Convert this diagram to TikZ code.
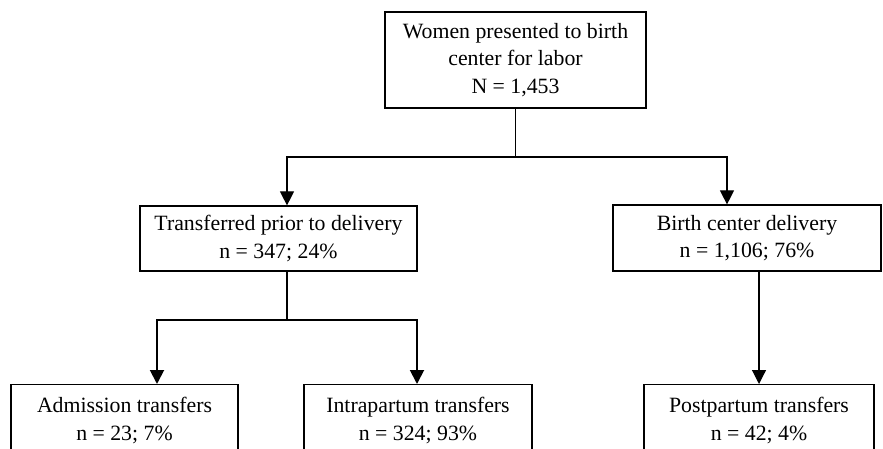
\documentclass[tikz,border=0pt]{standalone}
\usepackage{fontspec}
\setmainfont{Liberation Serif}
\usetikzlibrary{arrows.meta,positioning}

\begin{document}
\begin{tikzpicture}[x=1pt,y=-1pt,
    box/.style={draw,line width=1.2pt,align=center,inner sep=0pt,
      font=\fontsize{21.8}{27.5}\selectfont},
    link/.style={line width=1.2pt,-{Triangle[length=14pt,width=14pt]}},
    heavy/.style={link,line width=1.9pt}]
  \clip (0,0) rectangle (883,449);
  \node[box,minimum width=261pt,minimum height=96pt] (women) at (515.5,60)
    {Women presented to birth\\center for labor\\N = 1,453};
  \node[box,minimum width=277pt,minimum height=65pt] (trans) at (278.5,238.5)
    {Transferred prior to delivery\\n = 347; 24\%};
  \node[box,minimum width=268pt,minimum height=66pt] (birth) at (747,238)
    {Birth center delivery\\n = 1,106; 76\%};
  % bottom row, cut off by the page edge
  \node[box,anchor=north,minimum width=227pt,minimum height=72pt] (adm) at (124.5,384)
    {Admission transfers\\n = 23; 7\%};
  \node[box,anchor=north,minimum width=228pt,minimum height=72pt] (intra) at (418,384)
    {Intrapartum transfers\\n = 324; 93\%};
  \node[box,anchor=north,minimum width=230pt,minimum height=72pt] (post) at (759,384)
    {Postpartum transfers\\n = 42; 4\%};
  \coordinate (fork1) at (515.5,157);
  \coordinate (fork2) at (287,320);
  \draw[link] (women.south) -- (fork1) -| ([xshift=8.5pt]trans.north);
  \draw[link] (fork1) -| ([xshift=-20pt]birth.north);
  \draw[heavy] ([xshift=8.5pt]trans.south) -- (fork2) -| ([xshift=32.5pt]adm.north);
  \draw[heavy] (fork2) -| ([xshift=-1pt]intra.north);
  \draw[link] (birth.south -| post.north) -- (post.north);
\end{tikzpicture}
\end{document}
